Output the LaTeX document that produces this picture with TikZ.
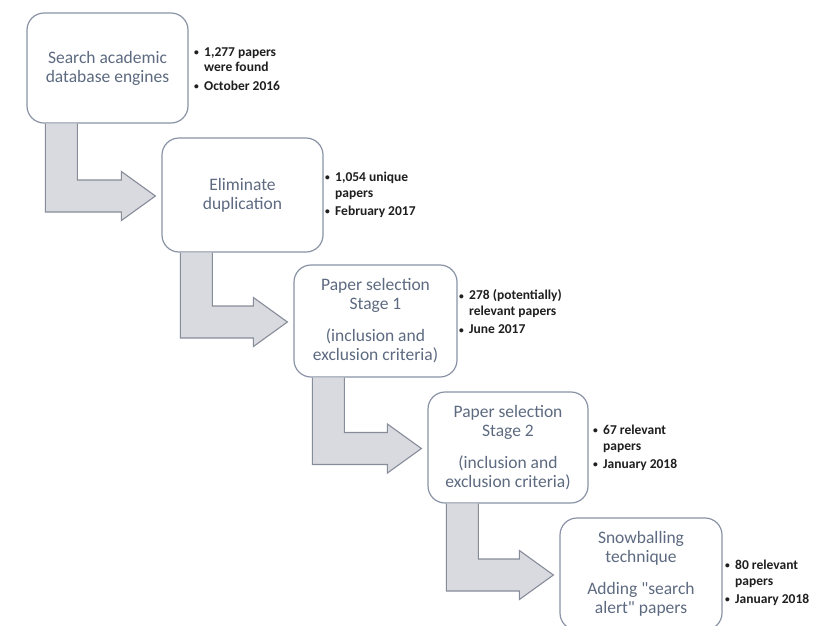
\documentclass[tikz,border=0pt]{standalone}
\usepackage{fontspec}
\setmainfont{Carlito}
\usetikzlibrary{calc}
\definecolor{boxline}{HTML}{8A93A5}
\definecolor{boxtext}{HTML}{5D6A80}
\definecolor{arrowfill}{HTML}{D9DADF}
\definecolor{arrowline}{HTML}{878C9B}
\tikzset{
  stagebox/.style={draw=boxline, line width=1.2pt, rounded corners=17pt, fill=white,
    minimum width=161pt, inner sep=0pt, align=center, text=boxtext,
    font=\fontsize{17.5}{19}\selectfont},
  notes/.style={anchor=west, align=left, inner sep=0pt,
    font=\bfseries\fontsize{13.5}{15.5}\selectfont, text=black!88},
  bent/.style={fill=arrowfill, draw=arrowline, line width=1.1pt, line join=miter},
}
\newcommand\nb{\makebox[10pt][l]{\raisebox{0.8pt}{\fontsize{9.5}{9.5}\selectfont\textbullet}}}
\newcommand\noteind{\hspace*{10pt}}
\newcommand\bentarrow[2]{%
  \path[bent] let \p1=(#1.south west), \p2=(#2.west) in
    (\x1+51pt,\y1) -- (\x1+51pt,\y2+15pt) -- (\x2-40pt,\y2+15pt)
    -- (\x2-40pt,\y2+23.5pt) -- (\x2-6pt,\y2-1pt) -- (\x2-40pt,\y2-25.5pt)
    -- (\x2-40pt,\y2-17pt) -- (\x1+19pt,\y2-17pt) -- (\x1+19pt,\y1);%
}
\begin{document}
\begin{tikzpicture}[x=1pt,y=-1pt]
\useasboundingbox (0,0) rectangle (830,625);
\clip (0,0) rectangle (830,625);
\fill[white] (0,0) rectangle (830,625);

\node[stagebox, minimum height=110pt] (b1) at (107.5,68) {Search academic\\database engines};
\node[stagebox, minimum height=114pt] (b2) at (242.5,195) {Eliminate\\duplication};
\node[stagebox, minimum height=112pt, minimum width=163pt] (b3) at (375.5,321) {Paper selection\\Stage 1\\[13pt](inclusion and\\exclusion criteria)};
\node[stagebox, minimum height=111pt, minimum width=160pt] (b4) at (508,447.5) {Paper selection\\Stage 2\\[13pt](inclusion and\\exclusion criteria)};
\node[stagebox, minimum height=112pt, minimum width=162pt] (b5) at (641,574) {Snowballing\\technique\\[13pt]Adding \textquotedbl search\\alert\textquotedbl\ papers};

\bentarrow{b1}{b2}
\bentarrow{b2}{b3}
\bentarrow{b3}{b4}
\bentarrow{b4}{b5}

\node[notes] (n1) at (194,69) {\nb 1,277 papers\\\noteind were found\\[3pt]\nb October 2016};
\node[notes] (n2) at (325,195) {\nb 1,054 unique\\\noteind papers\\[3pt]\nb February 2017};
\node[notes] (n3) at (459,312) {\nb 278 (potentially)\\\noteind relevant papers\\[3pt]\nb June 2017};
\node[notes] (n4) at (593,448) {\nb 67 relevant\\\noteind papers\\[3pt]\nb January 2018};
\node[notes] (n5) at (725,583) {\nb 80 relevant\\\noteind papers\\[3pt]\nb January 2018};
\end{tikzpicture}
\end{document}
